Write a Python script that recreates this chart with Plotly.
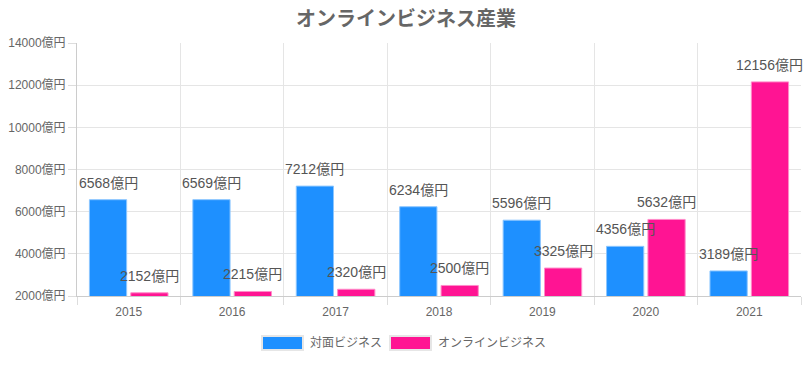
import plotly.graph_objects as go

years = ["2015", "2016", "2017", "2018", "2019", "2020", "2021"]
offline = [6568, 6569, 7212, 6234, 5596, 4356, 3189]
online = [2152, 2215, 2320, 2500, 3325, 5632, 12156]
series_names = ["対面ビジネス", "オンラインビジネス"]
colors = ["#1E90FF", "#FF1493"]
edge_colors = ["#8cc6ff", "#ff8cc9"]
y_ticks = [2000, 4000, 6000, 8000, 10000, 12000, 14000]
unit = "億円"

FONT = "Liberation Sans, Arial, Noto Sans CJK JP, sans-serif"
W, H = 812, 369
L, R, T, B = 77, 11, 43, 73

fig = go.Figure()
series = [offline, online]
for k, vals in enumerate(series):
    fig.add_trace(go.Bar(
        x=years, y=vals, name=series_names[k],
        marker=dict(color=colors[k], line=dict(color=edge_colors[k], width=1)),
        showlegend=False,
    ))

bargap, groupgap = 0.2, 0.1
n = len(series)
slot = (1 - bargap) / n
annotations = []
for k, vals in enumerate(series):
    off = -(1 - bargap) / 2 + slot * (k + 0.5)
    for i, v in enumerate(vals):
        annotations.append(dict(
            x=i + off, y=v, xref="x", yref="y", text=f"{v}{unit}",
            showarrow=False, yanchor="bottom", yshift=7,
            font=dict(size=14, color="#555555", family=FONT),
        ))

# custom legend (wide boxes like the original)
pw, ph = W - L - R, H - T - B
def px_x(p):
    return (p - L) / pw
def px_y(p):
    return (H - B - p) / ph

shapes = []
legend_boxes = [(262, 303, 308), (390, 431, 436)]
for k, (x0, x1, tx) in enumerate(legend_boxes):
    shapes.append(dict(type="rect", xref="paper", yref="paper",
                       x0=px_x(x0), x1=px_x(x1), y0=px_y(350), y1=px_y(336),
                       fillcolor=colors[k], line=dict(color="#e6e6e6", width=2)))
    annotations.append(dict(x=px_x(tx), y=px_y(343), xref="paper", yref="paper",
                            text=series_names[k], showarrow=False,
                            xanchor="left", yanchor="middle",
                            font=dict(size=12, color="#666666", family=FONT)))

fig.update_layout(
    width=W, height=H,
    margin=dict(l=L, r=R, t=T, b=B),
    paper_bgcolor="white", plot_bgcolor="white",
    barmode="group", bargap=bargap, bargroupgap=groupgap,
    font=dict(family=FONT, size=12, color="#666666"),
    title=dict(text="<b>オンラインビジネス産業</b>", x=0.5, xref="container",
               y=1 - 19 / H, yref="container", yanchor="middle",
               font=dict(size=20, color="#666666", family=FONT)),
    xaxis=dict(type="category", tickson="boundaries", ticks="outside", ticklen=8,
               tickcolor="#dddddd", showgrid=True, gridcolor="#e5e5e5",
               showline=True, linecolor="#cccccc", linewidth=1, automargin=False,
               ticklabelstandoff=5,
               tickfont=dict(size=12, color="#666666"), range=[-0.5, 6.5]),
    yaxis=dict(range=[2000, 14000], tickvals=y_ticks,
               ticktext=[f"{t}{unit}" for t in y_ticks],
               ticks="outside", ticklen=8, tickcolor="#dddddd", automargin=False,
               showgrid=True, gridcolor="#e5e5e5", zeroline=False,
               showline=True, linecolor="#cccccc", linewidth=1,
               tickfont=dict(size=12, color="#666666")),
    annotations=annotations,
    shapes=shapes,
)

fig.write_html("out.html", config={"displayModeBar": False},
               post_script="document.body.style.margin='0';document.body.style.overflow='hidden';")
